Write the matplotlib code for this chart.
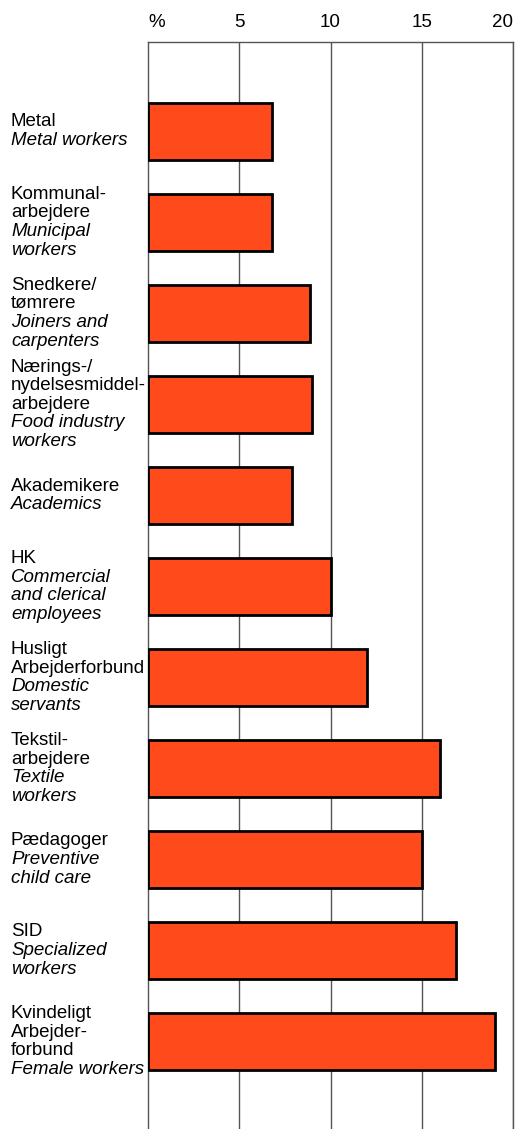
import matplotlib
matplotlib.use("Agg")
import matplotlib.pyplot as plt
import matplotlib.transforms as mtransforms

plt.rcParams['font.family'] = ['Liberation Sans', 'DejaVu Sans']

# Danish names (upright) and English names (italic), one line per entry
danish = [
    ["Metal"],
    ["Kommunal-", "arbejdere"],
    ["Snedkere/", "tømrere"],
    ["Nærings-/", "nydelsesmiddel-", "arbejdere"],
    ["Akademikere"],
    ["HK"],
    ["Husligt", "Arbejderforbund"],
    ["Tekstil-", "arbejdere"],
    ["Pædagoger"],
    ["SID"],
    ["Kvindeligt", "Arbejder-", "forbund"],
]
english = [
    ["Metal workers"],
    ["Municipal", "workers"],
    ["Joiners and", "carpenters"],
    ["Food industry", "workers"],
    ["Academics"],
    ["Commercial", "and clerical", "employees"],
    ["Domestic", "servants"],
    ["Textile", "workers"],
    ["Preventive", "child care"],
    ["Specialized", "workers"],
    ["Female workers"],
]
values = [6.8, 6.8, 8.9, 9.0, 7.9, 10.0, 12.0, 16.0, 15.0, 16.9, 19.0]
tick_vals = [0, 5, 10, 15, 20]
tick_labels = ["%", "5", "10", "15", "20"]

W, H = 515, 1129
fig = plt.figure(figsize=(W / 100, H / 100), dpi=100)
ax = fig.add_axes([148 / W, 0, (513 - 148) / W, 1 - 42 / H])

pos = list(range(len(values)))
ax.barh(pos, values, height=0.63, color='#ff4a1c', edgecolor='black',
        linewidth=2.0, zorder=3)

ax.set_xlim(0, 20)
ax.set_ylim(10.96, -0.98)

for v in tick_vals[1:]:
    ax.axvline(v, color='#555555', lw=1.0, zorder=1)

ax.spines['bottom'].set_visible(False)
for s in ['top', 'left', 'right']:
    ax.spines[s].set_color('#555555')
    ax.spines[s].set_linewidth(1.0)

ax.xaxis.tick_top()
ax.set_xticks(tick_vals)
ax.set_xticklabels(tick_labels, fontsize=13.5)
ax.tick_params(axis='x', length=0, pad=8)
lbls = ax.get_xticklabels()
lbls[0].set_ha('left')
lbls[-1].set_ha('right')
ax.set_yticks([])

# category labels: left aligned, block centred on the bar
trans = mtransforms.blended_transform_factory(fig.transFigure, ax.transData)
line_pt = 13.4
for i in pos:
    lines = [(t, 'normal') for t in danish[i]] + [(t, 'italic') for t in english[i]]
    n = len(lines)
    for k, (txt, st) in enumerate(lines):
        off = ((n - 1) / 2 - k) * line_pt
        ax.annotate(txt, xy=(11 / W, i), xycoords=trans,
                    xytext=(0, off), textcoords='offset points',
                    ha='left', va='center', fontsize=13.5, style=st,
                    annotation_clip=False)

fig.savefig('out.png', dpi=100)
